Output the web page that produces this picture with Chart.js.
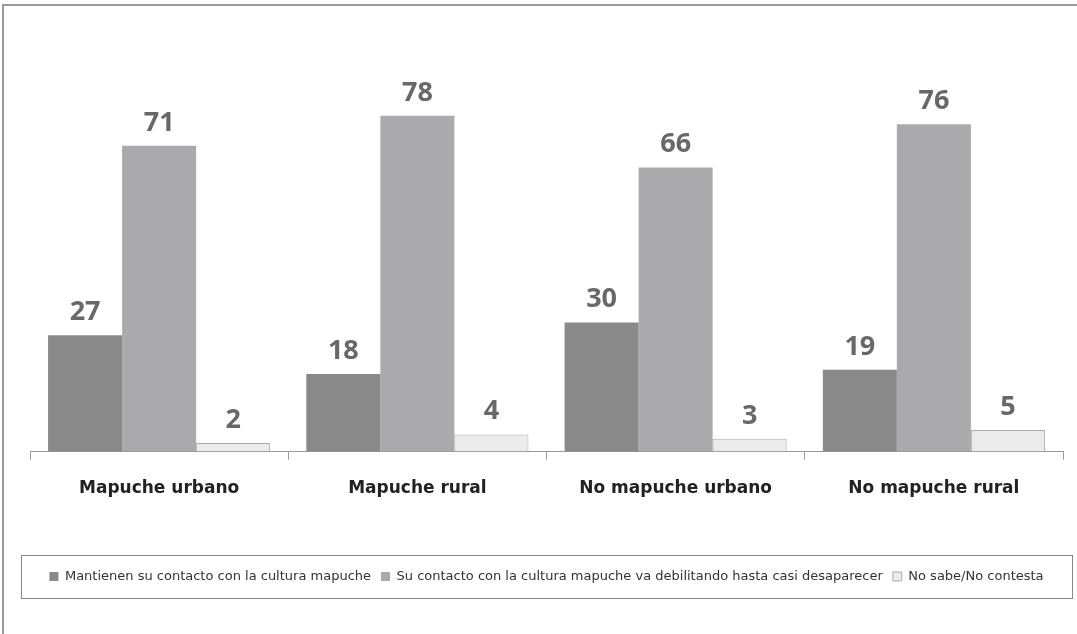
<!DOCTYPE html>
<html>
<head>
<meta charset="utf-8">
<script src="https://cdn.jsdelivr.net/npm/chart.js@4"></script>
<style>
  html, body { margin: 0; padding: 0; background: #fff; }
  #wrap { width: 1077px; height: 634px; }
</style>
</head>
<body>
<div id="wrap"><canvas id="myBarChart" width="1077" height="634"></canvas></div>
<script>
const categories = ['Mapuche urbano', 'Mapuche rural', 'No mapuche urbano', 'No mapuche rural'];
const seriesNames = [
    'Mantienen su contacto con la cultura mapuche',
    'Su contacto con la cultura mapuche va debilitando hasta casi desaparecer',
    'No sabe/No contesta'
];
const mantienen = [27, 18, 30, 19];
const debilitando = [71, 78, 66, 76];
const noSabe = [2, 4, 3, 5];

const FONT = '"DejaVu Sans", Verdana, sans-serif';

// value labels over each bar
const valueLabels = {
    id: 'valueLabels',
    afterDatasetsDraw(chart) {
        const ctx = chart.ctx;
        ctx.save();
        ctx.font = 'bold 27px "Open Sans", sans-serif';
        ctx.fillStyle = '#686868';
        ctx.textAlign = 'center';
        ctx.textBaseline = 'alphabetic';
        chart.data.datasets.forEach((ds, i) => {
            chart.getDatasetMeta(i).data.forEach((bar, j) => {
                ctx.fillText(ds.data[j], bar.x, bar.y - 15);
            });
        });
        ctx.restore();
    }
};

// outer frame + box around legend
const frames = {
    id: 'frames',
    beforeDraw(chart) {
        const ctx = chart.ctx;
        ctx.save();
        ctx.fillStyle = '#fff';
        ctx.fillRect(0, 0, chart.width, chart.height);
        ctx.strokeStyle = '#999';
        ctx.lineWidth = 2;
        ctx.beginPath();
        ctx.moveTo(3, chart.height);
        ctx.lineTo(3, 5);
        ctx.lineTo(chart.width, 5);
        ctx.stroke();
        ctx.restore();
    },
    afterDraw(chart) {
        const lg = chart.legend;
        const mid = Math.round((lg.top + lg.bottom) / 2);
        const ctx = chart.ctx;
        ctx.save();
        ctx.strokeStyle = '#888';
        ctx.lineWidth = 1;
        ctx.strokeRect(21.5, mid - 21.5, chart.width - 26, 43);
        ctx.restore();
    }
};

const data = {
    labels: categories,
    datasets: [
        {
            label: seriesNames[0],
            data: mantienen,
            backgroundColor: '#88898b',
            borderColor: '#88898b',
            borderWidth: 0
        },
        {
            label: seriesNames[1],
            data: debilitando,
            backgroundColor: '#a8aaad',
            borderColor: '#a8aaad',
            borderWidth: 0
        },
        {
            label: seriesNames[2],
            data: noSabe,
            backgroundColor: '#ebebeb',
            borderColor: '#aaa',
            borderWidth: 1
        }
    ]
};

const config = {
    type: 'bar',
    data: data,
    options: {
        responsive: false,
        animation: false,
        layout: {
            padding: { left: 30, right: 14, top: 21, bottom: 41 }
        },
        datasets: {
            bar: { categoryPercentage: 0.86, barPercentage: 1 }
        },
        scales: {
            x: {
                grid: {
                    drawOnChartArea: false,
                    tickLength: 8,
                    color: '#999'
                },
                border: { color: '#999' },
                ticks: {
                    color: '#222',
                    padding: 19,
                    font: { family: FONT, size: 17, weight: 'bold' }
                },
                afterFit(scale) { scale.height += 42; }
            },
            y: {
                display: false,
                beginAtZero: true,
                min: 0,
                max: 100
            }
        },
        plugins: {
            legend: {
                position: 'bottom',
                labels: {
                    color: '#333',
                    boxWidth: 9,
                    boxHeight: 9,
                    padding: 10,
                    font: { family: FONT, size: 13 }
                }
            },
            tooltip: { enabled: false }
        }
    },
    plugins: [valueLabels, frames]
};

const myBarChart = new Chart(
    document.getElementById('myBarChart'),
    config
);
</script>
</body>
</html>
